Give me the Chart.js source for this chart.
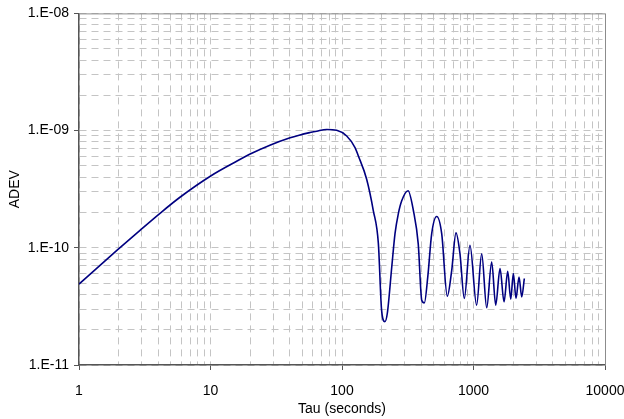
<!DOCTYPE html>
<html>
<head>
<meta charset="utf-8">
<script src="https://cdn.jsdelivr.net/npm/chart.js@4/dist/chart.umd.min.js"></script>
<style>
  html, body { margin: 0; padding: 0; background: #fff; }
  #wrap { width: 624px; height: 419px; }
</style>
</head>
<body>
<div id="wrap"><canvas id="graph" width="624" height="419"></canvas></div>
<script>
// tau (seconds) and ADEV
const tauValues = [1, 1.94, 2.91, 4.13, 5.86, 10.1, 15.8, 21.0, 28.3, 40.3, 47.9, 57.1, 64.2, 76.5, 91.1,
    108.6, 125.6, 133, 154, 173, 189, 200, 212, 221, 239, 253, 268, 285, 318, 349, 380, 404, 423,
    449, 481, 525, 573, 632, 683, 736, 789, 851, 940, 1056, 1154, 1260, 1375, 1475, 1591, 1707,
    1821, 1919, 2009, 2105, 2219, 2327, 2435];
const adevValues = [4.9e-11, 9.5e-11, 1.41e-10, 1.97e-10, 2.70e-10, 4.12e-10, 5.47e-10, 6.46e-10, 7.5e-10,
    8.67e-10, 9.18e-10, 9.62e-10, 9.89e-10, 1.023e-9, 1.007e-9, 9.0e-10, 7.17e-10, 6.1e-10, 3.85e-10,
    2.08e-10, 1.09e-10, 2.94e-11, 2.34e-11, 2.75e-11, 6.86e-11, 1.32e-10, 1.95e-10, 2.53e-10, 3.07e-10,
    2.08e-10, 1.08e-10, 3.57e-11, 3.39e-11, 5.64e-11, 1.32e-10, 1.85e-10, 1.32e-10, 3.86e-11, 6.43e-11,
    1.34e-10, 8.9e-11, 3.70e-11, 1.05e-10, 3.24e-11, 8.9e-11, 3.08e-11, 7.57e-11, 3.24e-11, 6.64e-11,
    3.46e-11, 6.3e-11, 3.65e-11, 6.03e-11, 3.70e-11, 5.64e-11, 3.81e-11, 5.47e-11];

const xMajorTicks = [1, 10, 100, 1000, 10000];
const xTickLabels = ['1', '10', '100', '1000', '10000'];
const yMajorTicks = [1e-11, 1e-10, 1e-9, 1e-8];
const yTickLabels = ['1.E-11', '1.E-10', '1.E-09', '1.E-08'];

// majors plus 2..9 in every decade
function withMinor(majors) {
    let out = [];
    majors.forEach(function (d, i) {
        out.push({ value: d, major: true, label: i });
        if (i < majors.length - 1) {
            for (let m = 2; m <= 9; m++) out.push({ value: d * m, major: false });
        }
    });
    return out;
}

const points = tauValues.map((t, i) => ({ x: t, y: adevValues[i] }));

const fontSpec = { family: 'Liberation Sans, Arial, sans-serif', size: 14 };

// grey frame on top and right of the plot area
const framePlugin = {
    id: 'frame',
    afterDraw(chart) {
        const a = chart.chartArea;
        const ctx = chart.ctx;
        ctx.save();
        ctx.strokeStyle = '#8c8c8c';
        ctx.lineWidth = 1;
        ctx.beginPath();
        ctx.moveTo(a.left, a.top + 0.5);
        ctx.lineTo(a.right + 0.5, a.top + 0.5);
        ctx.lineTo(a.right + 0.5, a.bottom);
        ctx.stroke();
        ctx.restore();
    }
};

function gridOpts() {
    return {
        color: '#c4c4c4',
        lineWidth: 1,
        drawTicks: true,
        tickLength: 5,
        tickColor: ctx => (ctx.tick && ctx.tick.major) ? '#555' : 'rgba(0,0,0,0)',
        tickBorderDash: []
    };
}

const chart = new Chart(document.getElementById('graph').getContext('2d'), {
    type: 'line',
    data: {
        datasets: [{
            data: points,
            borderColor: '#000080',
            borderWidth: 1.6,
            pointRadius: 0,
            fill: false,
            cubicInterpolationMode: 'monotone'
        }]
    },
    plugins: [framePlugin],
    options: {
        responsive: false,
        animation: false,
        events: [],
        layout: { padding: { top: 12, right: 0, left: 0, bottom: 0 } },
        plugins: { legend: { display: false }, tooltip: { enabled: false } },
        scales: {
            x: {
                type: 'logarithmic',
                min: 1,
                max: 10000,
                afterBuildTicks: s => { s.ticks = withMinor(xMajorTicks); },
                afterFit: s => { s.height = 54; s.paddingRight = 19; s.paddingLeft = 0; },
                ticks: {
                    autoSkip: false,
                    maxRotation: 0,
                    padding: 13,
                    color: '#000',
                    font: fontSpec,
                    callback: function (v, i, ticks) {
                        const t = ticks[i];
                        return t.major ? xTickLabels[t.label] : '';
                    }
                },
                grid: gridOpts(),
                border: { color: '#555', width: 1.5, dash: [7, 5] },
                title: { display: true, text: 'Tau (seconds)', color: '#000', font: fontSpec, padding: { top: 0, bottom: 1 } }
            },
            y: {
                type: 'logarithmic',
                min: 1e-11,
                max: 1e-8,
                afterBuildTicks: s => { s.ticks = withMinor(yMajorTicks); },
                afterFit: s => { s.width = 79; },
                ticks: {
                    autoSkip: false,
                    padding: 5,
                    color: '#000',
                    font: fontSpec,
                    callback: function (v, i, ticks) {
                        const t = ticks[i];
                        return t.major ? yTickLabels[t.label] : '';
                    }
                },
                grid: gridOpts(),
                border: { color: '#555', width: 1.5, dash: [7, 5] },
                title: { display: true, text: 'ADEV', color: '#000', font: fontSpec, padding: { top: 7, bottom: 0 } }
            }
        }
    }
});
</script>
</body>
</html>
